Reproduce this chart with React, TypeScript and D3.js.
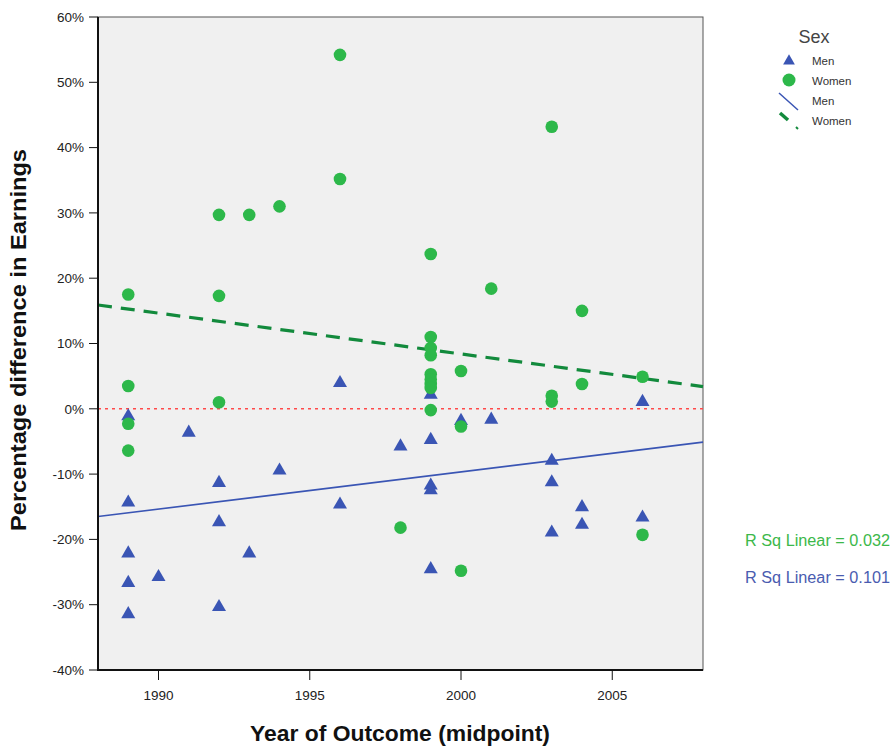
import React from "react";
import * as d3 from "d3";

const menYears = [1989, 1989, 1989, 1989, 1989, 1990, 1991, 1992, 1992, 1992, 1993, 1994, 1996, 1996, 1998, 1999, 1999, 1999, 1999, 1999, 2000, 2001, 2003, 2003, 2003, 2004, 2004, 2006, 2006];
const menValues = [-1.0, -14.2, -22.0, -26.5, -31.3, -25.6, -3.5, -11.2, -17.2, -30.2, -22.0, -9.3, 4.1, -14.5, -5.6, 2.3, -4.6, -11.6, -12.3, -24.4, -1.7, -1.5, -7.8, -11.1, -18.8, -14.9, -17.6, 1.2, -16.5];

const womenYears = [1989, 1989, 1989, 1989, 1992, 1992, 1992, 1993, 1994, 1996, 1996, 1998, 1999, 1999, 1999, 1999, 1999, 1999, 1999, 1999, 1999, 2000, 2000, 2000, 2001, 2003, 2003, 2003, 2004, 2004, 2006, 2006];
const womenValues = [17.5, 3.5, -2.3, -6.4, 29.7, 17.3, 1.0, 29.7, 31.0, 54.2, 35.2, -18.2, 23.7, 11.0, 9.3, 8.2, 5.3, 4.5, 3.8, 3.2, -0.2, 5.8, -2.7, -24.8, 18.4, 43.2, 2.0, 1.1, 15.0, 3.8, 4.9, -19.3];

const fitMenYears = [1988, 2008];
const fitMenValues = [-16.5, -5.1];
const fitWomenYears = [1988, 2008];
const fitWomenValues = [15.9, 3.4];

const xTicks = [1990, 1995, 2000, 2005];
const yTicks = [-40, -30, -20, -10, 0, 10, 20, 30, 40, 50, 60];

const legendLabels = ["Men", "Women", "Men", "Women"];
const rSqLabels = ["R Sq Linear = 0.032", "R Sq Linear = 0.101"];

const MEN = "#3a55b4";
const WOMEN = "#2db84a";
const WOMEN_LINE = "#128a3c";
const FONT = "'Liberation Sans', Arial, sans-serif";

export default function App() {
  const W = 893, H = 746;
  const left = 98, right = 703, top = 17, bottom = 670;
  const x = d3.scaleLinear().domain([1988, 2008]).range([left, right]);
  const y = d3.scaleLinear().domain([-40, 60]).range([bottom, top]);
  const tri = d3.symbol().type(d3.symbolTriangle).size(85)()!;
  const line = d3.line<[number, number]>().x(d => x(d[0])).y(d => y(d[1]));
  const menFit = line(fitMenYears.map((v, i) => [v, fitMenValues[i]] as [number, number]))!;
  const womenFit = line(fitWomenYears.map((v, i) => [v, fitWomenValues[i]] as [number, number]))!;

  return (
    <svg width={W} height={H} style={{ position: "absolute", left: 0, top: 0 }} fontFamily={FONT}>
      <rect x={0} y={0} width={W} height={H} fill="#fff" />
      <rect x={left} y={top} width={right - left} height={bottom - top} fill="#f0f0f0" stroke="#555" strokeWidth={1} />
      <line x1={left} x2={right} y1={y(0)} y2={y(0)} stroke="#ff4a4a" strokeWidth={1.5} strokeDasharray="3,4" />
      <path d={menFit} stroke={MEN} strokeWidth={1.6} fill="none" />
      <path d={womenFit} stroke={WOMEN_LINE} strokeWidth={3.2} fill="none" strokeDasharray="14,9" />
      {menYears.map((yr, i) => (
        <path key={"m" + i} d={tri} transform={`translate(${x(yr)},${y(menValues[i]) + 1})`} fill={MEN} />
      ))}
      {womenYears.map((yr, i) => (
        <circle key={"w" + i} cx={x(yr)} cy={y(womenValues[i])} r={6.3} fill={WOMEN} />
      ))}
      {/* axes */}
      <line x1={left} x2={left} y1={top} y2={bottom + 1} stroke="#111" strokeWidth={2} />
      <line x1={left - 1} x2={right} y1={bottom} y2={bottom} stroke="#111" strokeWidth={2} />
      {yTicks.map(t => (
        <g key={"y" + t}>
          <line x1={left - 9} x2={left} y1={y(t)} y2={y(t)} stroke="#111" strokeWidth={1} />
          <text x={left - 14} y={y(t)} dy="0.35em" textAnchor="end" fontSize={13.5} fill="#222">{t}%</text>
        </g>
      ))}
      {xTicks.map(t => (
        <g key={"x" + t}>
          <line x1={x(t)} x2={x(t)} y1={bottom} y2={bottom + 10} stroke="#111" strokeWidth={1} />
          <text x={x(t)} y={bottom + 30} textAnchor="middle" fontSize={13.5} fill="#222">{t}</text>
        </g>
      ))}
      <text x={400} y={741} textAnchor="middle" fontSize={22} fontWeight="bold" fill="#111" textLength={300} lengthAdjust="spacingAndGlyphs">Year of Outcome (midpoint)</text>
      <text transform={`translate(26,${340}) rotate(-90)`} textAnchor="middle" fontSize={22} fontWeight="bold" fill="#111" textLength={382} lengthAdjust="spacingAndGlyphs">Percentage difference in Earnings</text>
      {/* legend */}
      <text x={814} y={43} textAnchor="middle" fontSize={18} fill="#444">Sex</text>
      <path d={d3.symbol().type(d3.symbolTriangle).size(60)()!} transform="translate(789,61)" fill={MEN} />
      <circle cx={789} cy={80} r={6.5} fill={WOMEN} />
      <line x1={779} x2={798} y1={93} y2={110} stroke={MEN} strokeWidth={1.5} />
      <line x1={780} x2={788} y1={113} y2={120} stroke={WOMEN_LINE} strokeWidth={3.5} />
      <line x1={796} x2={798} y1={127} y2={129} stroke={WOMEN_LINE} strokeWidth={2} />
      {legendLabels.map((l, i) => (
        <text key={"l" + i} x={812} y={65 + i * 20} fontSize={11.5} fill="#333">{l}</text>
      ))}
      <text x={745} y={546} fontSize={16} fill="#3cb84a" textLength={145} lengthAdjust="spacingAndGlyphs">{rSqLabels[0]}</text>
      <text x={745} y={583} fontSize={16} fill="#4a5cb0" textLength={145} lengthAdjust="spacingAndGlyphs">{rSqLabels[1]}</text>
    </svg>
  );
}
